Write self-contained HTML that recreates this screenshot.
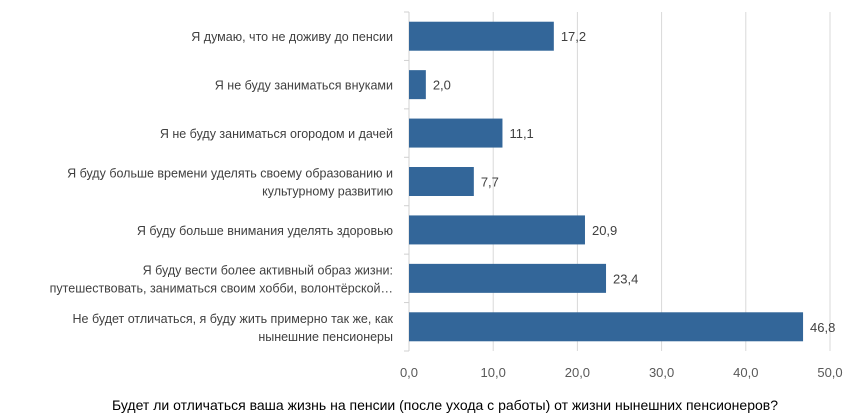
<!DOCTYPE html>
<html><head><meta charset="utf-8"><style>
body{margin:0;background:#fff;width:848px;height:414px;overflow:hidden}
svg text{font-family:"Liberation Sans","DejaVu Sans",sans-serif}
</style></head><body>
<svg id="chart" width="848" height="414" xmlns="http://www.w3.org/2000/svg"></svg>
<script>
const categories = [
 ["Я думаю, что не доживу до пенсии"],
 ["Я не буду заниматься внуками"],
 ["Я не буду заниматься огородом и дачей"],
 ["Я буду больше времени уделять своему образованию и","культурному развитию"],
 ["Я буду больше внимания уделять здоровью"],
 ["Я буду вести более активный образ жизни:","путешествовать, заниматься своим хобби, волонтёрской…"],
 ["Не будет отличаться, я буду жить примерно так же, как","нынешние пенсионеры"]
];
const values = [17.2, 2.0, 11.1, 7.7, 20.9, 23.4, 46.8];
const ticks = [0, 10, 20, 30, 40, 50];
const title = "Будет ли отличаться ваша жизнь на пенсии (после ухода с работы) от жизни нынешних пенсионеров?";

const svg = document.getElementById('chart');
const NS = 'http://www.w3.org/2000/svg';
const x0 = 409, x1 = 830, plotTop = 12, plotBottom = 351;
const xs = v => x0 + (v - 0) / 50 * (x1 - x0);
const band = (plotBottom - plotTop) / categories.length;
const yc = i => plotTop + band * (i + 0.5);
function mk(tag, attrs, parent) {
  const e = document.createElementNS(NS, tag);
  for (const k in attrs) e.setAttribute(k, attrs[k]);
  (parent || svg).appendChild(e);
  return e;
}
const fmt = v => v.toFixed(1).replace('.', ',');

ticks.forEach(t => {
  if (t === 0) return;
  const g = mk('line', {x1: xs(t), x2: xs(t), y1: plotTop, y2: plotBottom, stroke: '#d9d9d9', 'stroke-width': 1});
  
  
});
const ax = mk('line', {x1: x0, x2: x0, y1: plotTop, y2: plotBottom, stroke: '#d0d0d0', 'stroke-width': 1});


for (let i = 0; i <= categories.length; i++) {
  const tk = mk('line', {x1: x0 - 5, x2: x0, y1: plotTop + band * i, y2: plotTop + band * i, stroke: '#d0d0d0'});
  
  
}
ticks.forEach(t => {
  const tl = mk('text', {x: xs(t), y: 377, 'text-anchor': 'middle', 'font-size': 13, fill: '#595959'});
  tl.textContent = fmt(t);
  
  
});
values.forEach((v, i) => {
  const y = yc(i);
  const b = mk('rect', {x: x0, y: y - 14.5, width: xs(v) - x0, height: 29, fill: '#336699'});
  
  
  const vl = mk('text', {x: xs(v) + 7, y: y + 5, 'font-size': 13, fill: '#404040'});
  vl.textContent = fmt(v);
  
  
  const lines = categories[i];
  const cl = mk('text', {x: 393, 'text-anchor': 'end', 'font-size': 12.5, fill: '#404040'});
  
  
  lines.forEach((ln, j) => {
    const ts = mk('tspan', {x: 393, y: y + 5 + (j - (lines.length - 1) / 2) * 18}, cl);
    ts.textContent = ln;
  });
});
const tt = mk('text', {x: 445, y: 410, 'text-anchor': 'middle', 'font-size': 14, fill: '#000'});
tt.textContent = title;


</script>
</body></html>
